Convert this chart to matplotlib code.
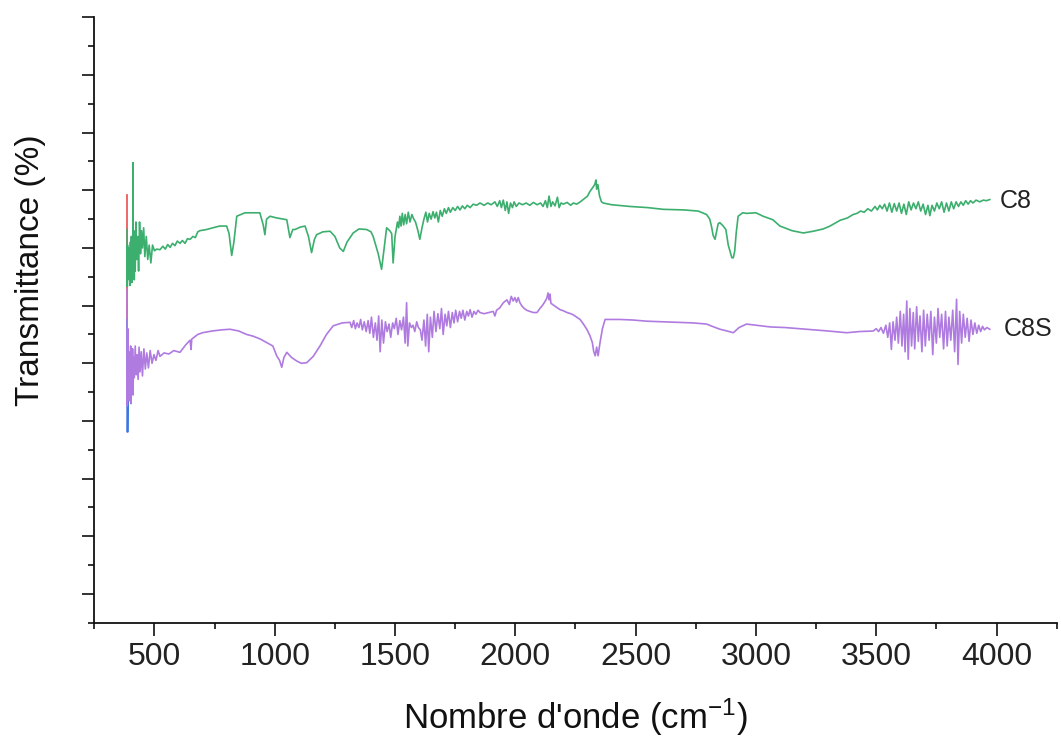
import matplotlib
matplotlib.use('Agg')
import matplotlib.pyplot as plt
from matplotlib.ticker import MultipleLocator

plt.rcParams['font.family'] = ['Liberation Sans', 'DejaVu Sans']
plt.rcParams['mathtext.default'] = 'regular'

# ---- data: (wavenumber cm-1, transmittance in arbitrary offset units) ----
c8_points = [
    (386, 6.32), (387, 5.33), (388, 6.05), (390, 5.45), (392, 6.00), (394, 5.50),
    (396, 5.80), (398, 5.35), (400, 6.10), (402, 5.50), (404, 6.20), (406, 5.40),
    (408, 5.90), (410, 5.50), (411, 7.48), (412, 5.60), (414, 6.30), (416, 5.45),
    (418, 6.00), (420, 5.60), (423, 6.45), (426, 5.80), (430, 6.20), (434, 5.60),
    (438, 6.45), (442, 5.90), (446, 6.30), (450, 6.00), (455, 6.35), (460, 5.85),
    (466, 6.20), (472, 5.80), (478, 6.05), (485, 5.74), (492, 6.05), (500, 5.95),
    (509, 5.98), (523, 5.97), (535, 6.03), (545, 5.98), (555, 6.06), (565, 6.01),
    (575, 6.08), (585, 6.04), (595, 6.12), (606, 6.08), (616, 6.13), (627, 6.08),
    (637, 6.16), (648, 6.15), (660, 6.20), (670, 6.18), (680, 6.28), (689, 6.30),
    (717, 6.32), (743, 6.35), (771, 6.38), (800, 6.38), (810, 6.25), (821, 5.87),
    (830, 6.10), (842, 6.55), (876, 6.61), (904, 6.61), (938, 6.61), (952, 6.40),
    (959, 6.23), (966, 6.50), (980, 6.55), (1009, 6.52), (1050, 6.49), (1063, 6.18),
    (1075, 6.32), (1084, 6.32), (1105, 6.36), (1126, 6.38), (1140, 6.20), (1153, 5.92),
    (1165, 6.15), (1174, 6.23), (1200, 6.28), (1230, 6.29), (1250, 6.20), (1270, 6.00),
    (1285, 5.94), (1300, 6.10), (1326, 6.26), (1350, 6.33), (1382, 6.32), (1400, 6.28),
    (1409, 6.20), (1430, 5.90), (1444, 5.63), (1455, 6.00), (1465, 6.35), (1478, 6.30),
    (1486, 6.25), (1492, 5.74), (1500, 6.20), (1510, 6.45), (1515, 6.35), (1520, 6.55),
    (1525, 6.38), (1530, 6.60), (1536, 6.40), (1542, 6.58), (1548, 6.42), (1555, 6.62),
    (1562, 6.45), (1570, 6.58), (1578, 6.50), (1585, 6.45), (1595, 6.30), (1603, 6.15),
    (1612, 6.35), (1620, 6.50), (1628, 6.62), (1635, 6.45), (1642, 6.60), (1650, 6.50),
    (1658, 6.63), (1665, 6.52), (1672, 6.62), (1680, 6.45), (1688, 6.65), (1696, 6.55),
    (1705, 6.68), (1713, 6.60), (1722, 6.70), (1730, 6.62), (1740, 6.70), (1750, 6.65),
    (1760, 6.72), (1770, 6.66), (1780, 6.73), (1790, 6.68), (1800, 6.74), (1812, 6.70),
    (1825, 6.76), (1839, 6.74), (1853, 6.78), (1870, 6.74), (1885, 6.78), (1900, 6.75),
    (1915, 6.80), (1925, 6.72), (1935, 6.82), (1942, 6.70), (1950, 6.83), (1958, 6.65),
    (1965, 6.80), (1972, 6.60), (1980, 6.78), (1988, 6.70), (1995, 6.80), (2004, 6.72),
    (2015, 6.78), (2030, 6.75), (2045, 6.78), (2060, 6.74), (2075, 6.79), (2090, 6.75),
    (2105, 6.78), (2115, 6.72), (2125, 6.82), (2133, 6.70), (2140, 6.90), (2148, 6.72),
    (2155, 6.80), (2165, 6.73), (2175, 6.88), (2182, 6.70), (2190, 6.78), (2200, 6.76),
    (2215, 6.79), (2230, 6.74), (2241, 6.78), (2255, 6.76), (2270, 6.80), (2285, 6.85),
    (2300, 6.90), (2310, 6.98), (2322, 7.05), (2330, 7.10), (2335, 7.18), (2338, 7.02),
    (2343, 7.10), (2350, 6.90), (2358, 6.80), (2365, 6.78), (2400, 6.75), (2476, 6.72),
    (2550, 6.70), (2615, 6.67), (2700, 6.66), (2760, 6.64), (2795, 6.58), (2808, 6.50),
    (2815, 6.38), (2822, 6.22), (2830, 6.15), (2837, 6.30), (2843, 6.42), (2850, 6.44),
    (2864, 6.38), (2875, 6.32), (2885, 6.05), (2895, 5.90), (2900, 5.83), (2906, 5.83),
    (2912, 5.95), (2918, 6.26), (2926, 6.55), (2945, 6.61), (2961, 6.60), (3000, 6.61),
    (3030, 6.55), (3070, 6.49), (3100, 6.38), (3150, 6.30), (3197, 6.26), (3238, 6.29),
    (3280, 6.33), (3308, 6.38), (3350, 6.48), (3380, 6.52), (3404, 6.58), (3420, 6.60),
    (3435, 6.64), (3450, 6.62), (3465, 6.68), (3480, 6.64), (3495, 6.72), (3505, 6.66),
    (3515, 6.74), (3525, 6.68), (3535, 6.76), (3545, 6.64), (3555, 6.78), (3565, 6.62),
    (3575, 6.77), (3585, 6.64), (3595, 6.78), (3605, 6.60), (3615, 6.76), (3625, 6.58),
    (3635, 6.80), (3645, 6.66), (3655, 6.78), (3665, 6.68), (3675, 6.80), (3685, 6.64),
    (3695, 6.76), (3705, 6.58), (3715, 6.74), (3723, 6.56), (3732, 6.74), (3742, 6.64),
    (3752, 6.78), (3762, 6.68), (3772, 6.80), (3782, 6.62), (3792, 6.78), (3802, 6.64),
    (3812, 6.80), (3822, 6.68), (3832, 6.80), (3842, 6.72), (3852, 6.80), (3862, 6.74),
    (3872, 6.82), (3882, 6.76), (3892, 6.82), (3902, 6.78), (3915, 6.83), (3930, 6.80),
    (3945, 6.83), (3958, 6.82), (3972, 6.84),
]

c8s_points = [
    (386, 5.28), (387, 3.26), (389, 4.60), (391, 3.40), (393, 4.20), (395, 3.35),
    (397, 4.10), (399, 3.50), (401, 4.30), (403, 3.30), (405, 4.00), (407, 3.60),
    (409, 4.25), (411, 3.45), (413, 4.10), (416, 3.75), (420, 4.30), (424, 3.80),
    (428, 4.15), (432, 3.72), (436, 4.28), (440, 3.85), (445, 4.20), (450, 3.78),
    (456, 4.25), (462, 3.90), (468, 4.18), (475, 3.92), (482, 4.22), (490, 4.00),
    (498, 4.15), (506, 4.05), (515, 4.22), (523, 4.12), (540, 4.18), (560, 4.16),
    (580, 4.22), (606, 4.19), (630, 4.32), (648, 4.40), (652, 4.24), (655, 4.42),
    (680, 4.50), (700, 4.53), (740, 4.56), (780, 4.58), (814, 4.59), (850, 4.56),
    (883, 4.50), (910, 4.47), (940, 4.42), (966, 4.36), (992, 4.30), (1008, 4.13),
    (1020, 4.05), (1029, 3.93), (1038, 4.10), (1050, 4.19), (1070, 4.10), (1091, 4.04),
    (1110, 4.00), (1133, 4.01), (1160, 4.12), (1188, 4.30), (1215, 4.50), (1243, 4.65),
    (1280, 4.70), (1313, 4.71), (1320, 4.62), (1328, 4.74), (1335, 4.60), (1342, 4.70),
    (1350, 4.62), (1357, 4.76), (1364, 4.58), (1372, 4.72), (1380, 4.55), (1388, 4.74),
    (1395, 4.52), (1402, 4.80), (1410, 4.45), (1418, 4.70), (1425, 4.40), (1432, 4.82),
    (1438, 4.20), (1445, 4.75), (1452, 4.35), (1460, 4.72), (1467, 4.55), (1475, 4.68),
    (1482, 4.45), (1490, 4.70), (1497, 4.60), (1505, 4.78), (1512, 4.50), (1520, 4.74),
    (1527, 4.58), (1535, 4.80), (1542, 4.35), (1548, 5.05), (1553, 4.30), (1560, 4.70),
    (1568, 4.62), (1575, 4.66), (1582, 4.55), (1590, 4.72), (1597, 4.62), (1605, 4.58),
    (1612, 4.40), (1620, 4.75), (1627, 4.30), (1634, 4.85), (1640, 4.20), (1647, 4.80),
    (1655, 4.45), (1662, 4.90), (1670, 4.55), (1678, 4.86), (1686, 4.60), (1693, 4.95),
    (1700, 4.50), (1708, 4.85), (1715, 4.65), (1722, 4.90), (1730, 4.62), (1738, 4.88),
    (1745, 4.70), (1752, 4.92), (1760, 4.72), (1768, 4.90), (1775, 4.78), (1782, 4.92),
    (1790, 4.75), (1798, 4.90), (1805, 4.82), (1812, 4.93), (1820, 4.80), (1828, 4.90),
    (1836, 4.85), (1845, 4.92), (1853, 4.88), (1870, 4.86), (1890, 4.88), (1908, 4.90),
    (1915, 4.82), (1922, 4.92), (1935, 4.96), (1950, 5.05), (1965, 5.10), (1975, 5.02),
    (1983, 5.16), (1991, 5.08), (1998, 5.14), (2005, 5.06), (2012, 5.14), (2019, 5.05),
    (2028, 4.99), (2037, 4.95), (2047, 4.92), (2060, 4.90), (2075, 4.88), (2090, 4.88),
    (2102, 4.95), (2112, 5.00), (2120, 5.05), (2130, 5.12), (2136, 5.22), (2140, 5.10),
    (2144, 5.20), (2148, 5.04), (2155, 5.02), (2165, 4.99), (2175, 4.96), (2186, 4.93),
    (2200, 4.91), (2215, 4.88), (2230, 4.86), (2241, 4.84), (2255, 4.80), (2269, 4.76),
    (2283, 4.68), (2297, 4.59), (2310, 4.48), (2320, 4.36), (2326, 4.20), (2332, 4.13),
    (2338, 4.28), (2344, 4.13), (2352, 4.36), (2362, 4.60), (2373, 4.76), (2400, 4.76),
    (2435, 4.76), (2490, 4.75), (2546, 4.73), (2610, 4.72), (2684, 4.71), (2740, 4.70),
    (2795, 4.68), (2825, 4.63), (2851, 4.59), (2880, 4.56), (2906, 4.53), (2930, 4.62),
    (2961, 4.68), (3000, 4.66), (3060, 4.63), (3120, 4.62), (3211, 4.59), (3300, 4.56),
    (3377, 4.53), (3430, 4.55), (3488, 4.56), (3500, 4.60), (3510, 4.55), (3520, 4.62),
    (3530, 4.52), (3540, 4.66), (3548, 4.45), (3556, 4.70), (3563, 4.24), (3570, 4.72),
    (3578, 4.40), (3585, 4.80), (3592, 4.35), (3600, 4.90), (3607, 4.30), (3614, 4.85),
    (3620, 4.20), (3627, 5.08), (3633, 4.07), (3640, 4.95), (3647, 4.30), (3654, 4.88),
    (3660, 4.25), (3668, 4.98), (3675, 4.38), (3682, 4.82), (3690, 4.20), (3697, 4.92),
    (3704, 4.30), (3712, 4.85), (3720, 4.40), (3727, 4.90), (3735, 4.15), (3742, 4.80),
    (3750, 4.35), (3757, 4.95), (3764, 4.45), (3772, 4.85), (3780, 4.25), (3788, 4.90),
    (3795, 4.30), (3802, 4.80), (3810, 4.40), (3818, 4.92), (3826, 4.20), (3834, 5.11),
    (3840, 3.98), (3847, 4.90), (3855, 4.35), (3862, 4.85), (3870, 4.45), (3878, 4.78),
    (3886, 4.38), (3894, 4.75), (3902, 4.50), (3910, 4.70), (3918, 4.52), (3926, 4.66),
    (3934, 4.55), (3942, 4.64), (3950, 4.58), (3960, 4.62), (3972, 4.59),
]

# two short traces only visible at the low-wavenumber edge
red_points = [(386, 6.91), (386, 4.76)]
blue_points = [(386, 4.76), (387, 2.81), (389, 2.81), (390, 3.33)]

series_labels = ['C8', 'C8S']

c8_wn, c8_t = zip(*c8_points)
c8s_wn, c8s_t = zip(*c8s_points)
red_wn, red_t = zip(*red_points)
blue_wn, blue_t = zip(*blue_points)

fig = plt.figure(figsize=(10.61, 7.38), dpi=100)
ax = fig.add_axes([0.0889, 0.1562, 0.907, 0.8203])

ax.plot(red_wn, red_t, color='#EE5A5A', lw=1.3)
ax.plot(blue_wn, blue_t, color='#3B75E0', lw=1.3)
ax.plot(c8s_wn, c8s_t, color='#B07BE0', lw=1.2)
ax.plot(c8_wn, c8_t, color='#3CAF6E', lw=1.2)

ax.text(4015, 6.81, series_labels[0], fontsize=18, va='center', ha='left', color='#222222')
ax.text(4030, 4.59, series_labels[1], fontsize=18, va='center', ha='left', color='#222222')

ax.set_xlim(250, 4250)
ax.set_ylim(-0.5, 10)
ax.xaxis.set_major_locator(MultipleLocator(500))
ax.xaxis.set_minor_locator(MultipleLocator(250))
ax.yaxis.set_major_locator(MultipleLocator(1))
ax.yaxis.set_minor_locator(MultipleLocator(0.5))
ax.set_yticklabels([])

for side in ['top', 'right']:
    ax.spines[side].set_visible(False)
for side in ['left', 'bottom']:
    ax.spines[side].set_linewidth(1.3)
    ax.spines[side].set_color('#111111')

ax.tick_params(which='major', length=9, width=1.2, color='#111111')
ax.tick_params(which='minor', length=4.5, width=1.2, color='#111111')
ax.tick_params(axis='x', labelsize=23, pad=5, labelcolor='#222222')

ax.set_xlabel("Nombre d'onde (cm$^{-1}$)", fontsize=25, color='#111111')
ax.set_ylabel('Transmittance (%)', fontsize=24, color='#111111')
ax.xaxis.set_label_coords(0.5, -0.122)
ax.yaxis.set_label_coords(-0.05, 0.583)

fig.savefig('out.png', dpi=100)
